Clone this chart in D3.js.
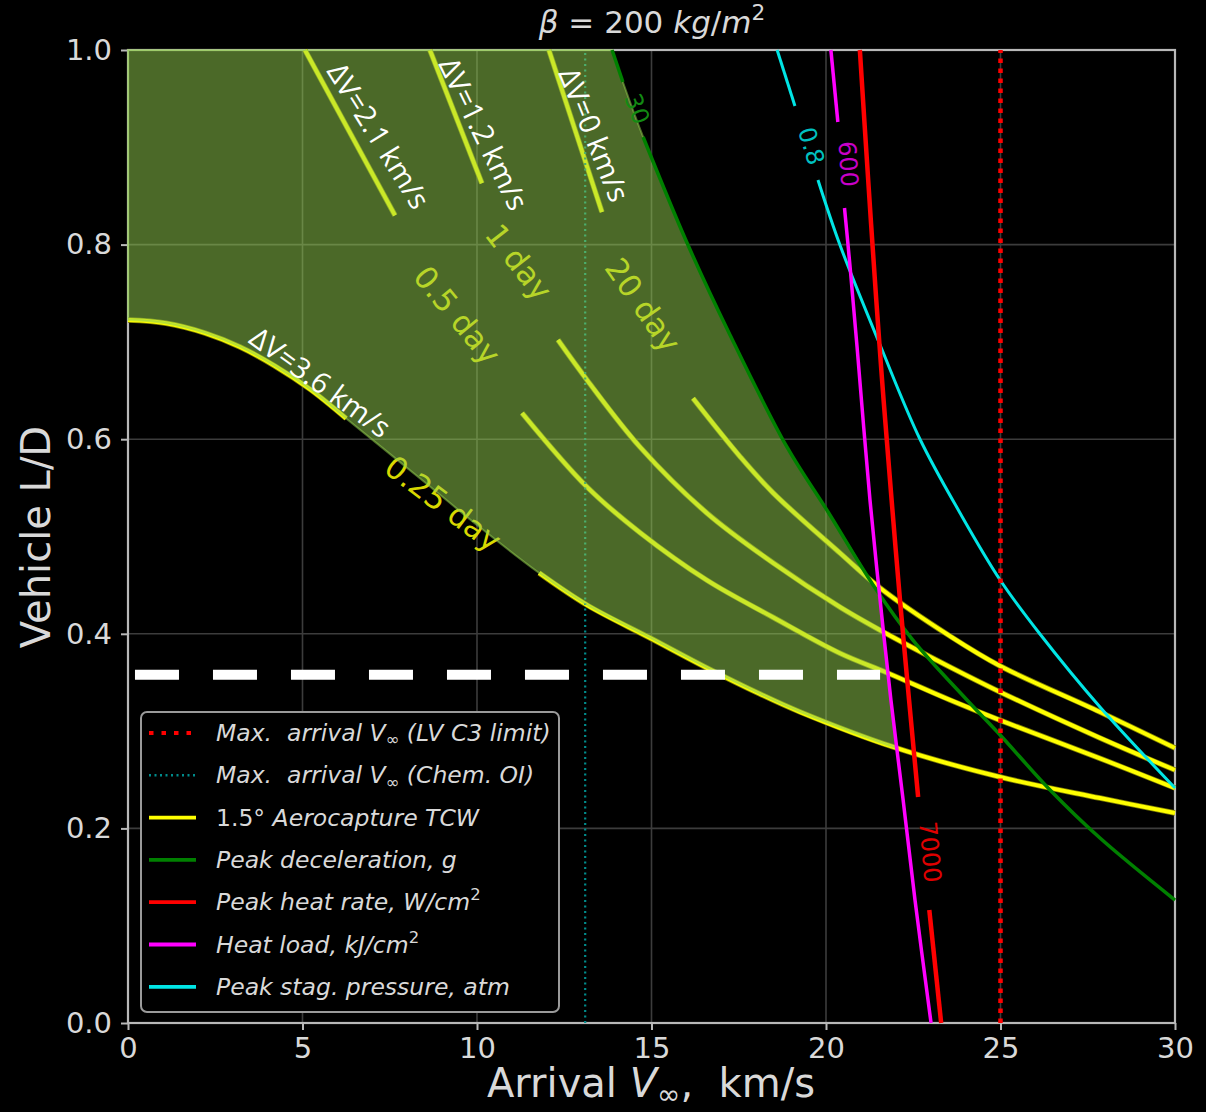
<!DOCTYPE html>
<html>
<head>
<meta charset="utf-8">
<script src="https://cdn.jsdelivr.net/npm/d3@7"></script>
<style>
  html, body { margin: 0; padding: 0; background: #000; }
  svg { display: block; }
  text { white-space: pre; }
</style>
</head>
<body>
<svg id="chart" width="1206" height="1112"></svg>
<script>
// values: x = arrival V_inf (km/s), y = vehicle L/D
var xTicks = [0, 5, 10, 15, 20, 25, 30];
var xTickLabels = ['0', '5', '10', '15', '20', '25', '30'];
var yTicks = [0, 0.2, 0.4, 0.6, 0.8, 1.0];
var yTickLabels = ['0.0', '0.2', '0.4', '0.6', '0.8', '1.0'];

var c3LimitV = 25;     // max arrival V_inf (LV C3 limit)
var chemOiV = 13.1;    // max arrival V_inf (chem. OI)
var guideLD = 0.358;   // white dashed guide line
var guideV = [0.2, 21.55];

// 1.5 deg aerocapture TCW, contours of orbit period
var tcw025 = [[0, 0.7225], [1.09, 0.7192], [2.21, 0.7091], [3.21, 0.6948], [4.21, 0.6752], [5.22, 0.6512],
  [6.25, 0.6213], [8.37, 0.5596], [10.09, 0.5092], [11.78, 0.4625], [13.15, 0.4296], [14.96, 0.3957],
  [16.59, 0.3649], [18.11, 0.3381], [19.26, 0.3196], [21.92, 0.2837], [24.99, 0.2528], [27.85, 0.2312],
  [30, 0.2158]];
var tcw05 = [[5.07, 1.0], [7.65, 0.83], [11.29, 0.627], [13.15, 0.551], [14.67, 0.504], [16.59, 0.455],
  [18.48, 0.417], [20.4, 0.38], [21.75, 0.36], [23.55, 0.332], [25, 0.311], [27.85, 0.272], [30, 0.2415]];
var tcw1 = [[8.65, 1.0], [10.14, 0.863], [12.32, 0.702], [13.15, 0.661], [14.67, 0.592], [16.59, 0.524],
  [18.48, 0.473], [20.4, 0.4275], [21.75, 0.3998], [23.55, 0.3659], [25, 0.34], [27.85, 0.293], [30, 0.26]];
var tcw20 = [[12.06, 1.0], [13.58, 0.8335], [16.19, 0.642], [17.54, 0.582], [18.48, 0.545], [20.4, 0.483],
  [21.55, 0.4471], [23.55, 0.3977], [24.99, 0.3669], [27.85, 0.3196], [30, 0.2826]];
// label gaps along each contour (V range)
var gap025 = [6.25, 11.78];
var gap05 = [7.65, 11.29];
var gap1 = [10.14, 12.32];
var gap20 = [13.58, 16.19];

// constraint contours
var peakDecel30 = [[13.87, 1.0], [14.18, 0.9671], [14.76, 0.9106], [16.02, 0.8016], [17.25, 0.7071],
  [18.88, 0.592], [20.06, 0.5252], [21.35, 0.4502], [22.49, 0.3936], [24.04, 0.332], [24.99, 0.296],
  [26.42, 0.2395], [27.85, 0.1901], [30, 0.1264]];
var heatRate7000 = [[20.97, 1.0], [21.19, 0.8767], [21.44, 0.7431], [21.65, 0.6403], [21.88, 0.5375],
  [22.12, 0.4347], [22.38, 0.332], [22.64, 0.2323], [22.96, 0.1161], [23.3, 0.0]];
var heatLoad600 = [[20.14, 1.0], [20.34, 0.926], [20.53, 0.8376], [20.69, 0.777], [20.89, 0.6948],
  [21.26, 0.5375], [21.55, 0.4347], [21.86, 0.332], [22.21, 0.2292], [22.55, 0.1264], [23.01, 0.0]];
var stagPress08 = [[18.6, 1.0], [19.11, 0.9424], [19.77, 0.8664], [20.4, 0.7996], [21.55, 0.6968],
  [22.69, 0.6002], [23.84, 0.5242], [24.99, 0.4553], [26.13, 0.3998], [27.85, 0.3248], [30, 0.2415]];
var gapDecel = [14.18, 14.76];
var gapHeatRate = [22.64, 22.96];
var gapHeatLoad = [20.34, 20.53];
var gapStag = [19.11, 19.77];

// inline contour labels: text, [V, L/D] centre, angle
var dayLabels = [
  ['0.25 day', [9.03, 0.534], 37],
  ['0.5 day', [9.43, 0.7276], 50.5],
  ['1 day', [11.2, 0.7821], 52],
  ['20 day', [14.76, 0.7379], 55]
];
var limitLabels = [
  ['30', [14.58, 0.9394], 70, 'decel'],
  ['0.8', [19.57, 0.9013], 73, 'stag'],
  ['600', [20.63, 0.8828], 86, 'load'],
  ['7000', [22.98, 0.1757], 85, 'rate']
];
// white delta-V notes: text, baseline start [V, L/D], angle
var dvLabels = [
  ['\u0394V=2.1 km/s', [5.67, 0.9784], 58],
  ['\u0394V=1.2 km/s', [8.88, 0.9856], 64],
  ['\u0394V=0 km/s', [12.32, 0.9764], 68],
  ['\u0394V=3.6 km/s', [3.42, 0.7], 36]
];

var legendItems = [
  ['c3', [['Max.  arrival V'], ['\u221e', 'sub'], [' (LV C3 limit)']]],
  ['chem', [['Max.  arrival V'], ['\u221e', 'sub'], [' (Chem. OI)']]],
  ['tcw', [['1.5\u00b0 ', 'n'], ['Aerocapture TCW']]],
  ['decel', [['Peak deceleration, g']]],
  ['rate', [['Peak heat rate, W/cm'], ['2', 'sup']]],
  ['load', [['Heat load, kJ/cm'], ['2', 'sup']]],
  ['stag', [['Peak stag. pressure, atm']]]
];

var colors = {
  c3: '#ff0000', chem: '#008b8b', tcw: '#ffff00', decel: '#008000',
  rate: '#ff0000', load: '#ff00ff', stag: '#00e5e5'
};
var labelColors = { decel: '#138a13', stag: '#00c0c0', load: '#c800c8', rate: '#e00000' };

var FONT = 'DejaVu Sans, sans-serif';
var TXT = '#d9d9d9';

var svg = d3.select('#chart');
var x = d3.scaleLinear().domain([0, 30]).range([128, 1175]);
var y = d3.scaleLinear().domain([0, 1]).range([1023, 50]);

var lineGen = d3.line()
  .x(function(d) { return x(d[0]); })
  .y(function(d) { return y(d[1]); })
  .curve(d3.curveCatmullRom.alpha(0.5));

function pieces(pts, gap) {
  if (!gap) return [pts];
  return [pts.filter(function(p) { return p[0] <= gap[0]; }),
          pts.filter(function(p) { return p[0] >= gap[1]; })];
}

function drawCurve(layer, pts, gap, color, width) {
  layer.selectAll(null).data(pieces(pts, gap)).enter().append('path')
    .attr('d', lineGen)
    .attr('fill', 'none')
    .attr('stroke', color)
    .attr('stroke-width', width);
}

// first crossing of two polylines (straight segments)
function crossing(a, b) {
  for (var i = 0; i < a.length - 1; i++) {
    for (var j = 0; j < b.length - 1; j++) {
      var p = a[i], r = [a[i + 1][0] - p[0], a[i + 1][1] - p[1]];
      var q = b[j], s = [b[j + 1][0] - q[0], b[j + 1][1] - q[1]];
      var den = r[0] * s[1] - r[1] * s[0];
      if (den === 0) continue;
      var t = ((q[0] - p[0]) * s[1] - (q[1] - p[1]) * s[0]) / den;
      var u = ((q[0] - p[0]) * r[1] - (q[1] - p[1]) * r[0]) / den;
      if (t >= 0 && t <= 1 && u >= 0 && u <= 1) {
        return { i: i, j: j, pt: [p[0] + t * r[0], p[1] + t * r[1]] };
      }
    }
  }
  return null;
}

function richText(sel, parts, fs, defStyle) {
  var shift = 0;
  parts.forEach(function(p) {
    var mode = p[1] || defStyle;
    var target = mode === 'sub' ? 0.18 * fs : (mode === 'sup' ? -0.42 * fs : 0);
    var t = sel.append('tspan').text(p[0]).attr('dy', target - shift);
    shift = target;
    if (mode === 'sub' || mode === 'sup') t.attr('font-size', fs * 0.7);
    t.attr('font-style', mode === 'n' || mode === 'sup' ? 'normal' : (mode === 'i' || defStyle === 'i' ? 'italic' : 'normal'));
  });
}

// grid
var grid = svg.append('g');
grid.selectAll(null).data(xTicks.slice(1, -1)).enter().append('line')
  .attr('x1', function(d) { return x(d); }).attr('x2', function(d) { return x(d); })
  .attr('y1', y(0)).attr('y2', y(1))
  .attr('stroke', '#3c3c3c').attr('stroke-width', 1.6);
grid.selectAll(null).data(yTicks.slice(1, -1)).enter().append('line')
  .attr('y1', function(d) { return y(d); }).attr('y2', function(d) { return y(d); })
  .attr('x1', x(0)).attr('x2', x(30))
  .attr('stroke', '#3c3c3c').attr('stroke-width', 1.6);

// frame
svg.append('rect')
  .attr('x', x(0)).attr('y', y(1)).attr('width', x(30) - x(0)).attr('height', y(0) - y(1))
  .attr('fill', 'none').attr('stroke', '#b8b8b8').attr('stroke-width', 2.2);

// axes
var xAxis = svg.append('g').attr('transform', 'translate(0,' + y(0) + ')')
  .call(d3.axisBottom(x).tickValues(xTicks)
    .tickFormat(function(d, i) { return xTickLabels[i]; })
    .tickSize(7).tickPadding(7));
var yAxis = svg.append('g').attr('transform', 'translate(' + x(0) + ',0)')
  .call(d3.axisLeft(y).tickValues(yTicks)
    .tickFormat(function(d, i) { return yTickLabels[i]; })
    .tickSize(7).tickPadding(9));
[xAxis, yAxis].forEach(function(a) {
  a.select('.domain').remove();
  a.selectAll('.tick line').attr('stroke', '#b8b8b8').attr('stroke-width', 2);
  a.selectAll('.tick text').attr('fill', TXT).attr('font-size', 29).attr('font-family', FONT);
});

// titles
var title = svg.append('text').attr('x', 652).attr('y', 33)
  .attr('text-anchor', 'middle').attr('fill', TXT).attr('font-size', 31).attr('font-family', FONT);
richText(title, [['\u03b2', 'i'], [' = 200 ', 'n'], ['kg', 'i'], ['/', 'n'], ['m', 'i'], ['2', 'sup']], 31, 'n');

var xLabel = svg.append('text').attr('x', 651).attr('y', 1097)
  .attr('text-anchor', 'middle').attr('fill', TXT).attr('font-size', 40).attr('font-family', FONT);
richText(xLabel, [['Arrival ', 'n'], ['V', 'i'], ['\u221e', 'sub'], [',  km/s', 'n']], 40, 'n');

svg.append('text').attr('transform', 'translate(50,537) rotate(-90)')
  .attr('text-anchor', 'middle').attr('fill', TXT).attr('font-size', 40).attr('font-family', FONT)
  .text('Vehicle L/D');

// aerocapture corridor contours (under the fill), soft olive edge then yellow core
var lines = svg.append('g');
[tcw025, tcw05, tcw1, tcw20].forEach(function(c, k) {
  var g = [gap025, gap05, gap1, gap20][k];
  drawCurve(lines, c, g, '#7e7e00', 5.5);
  drawCurve(lines, c, g, colors.tcw, 4);
});

lines.selectAll(null).data(dayLabels).enter().append('text')
  .attr('transform', function(d) { return 'translate(' + x(d[1][0]) + ',' + y(d[1][1]) + ') rotate(' + d[2] + ')'; })
  .attr('text-anchor', 'middle').attr('dominant-baseline', 'central')
  .attr('fill', '#d8d800').attr('font-size', 31).attr('font-family', FONT)
  .text(function(d) { return d[0]; });

lines.append('line')
  .attr('x1', x(chemOiV)).attr('x2', x(chemOiV)).attr('y1', y(0)).attr('y2', y(1))
  .attr('stroke', colors.chem).attr('stroke-width', 2.2).attr('stroke-dasharray', '2,3.5');

// feasible region
var gm = crossing(peakDecel30, heatLoad600);
var ml = crossing(heatLoad600, tcw025);
var upper = peakDecel30.slice(0, gm.i + 1).concat([gm.pt]);
var side = [gm.pt].concat(heatLoad600.slice(gm.j + 1, ml.i + 1), [ml.pt]);
var lower = tcw025.slice(0, ml.j + 1).concat([ml.pt]).reverse();
var regionPath = 'M' + x(0) + ',' + y(1) +
  lineGen(upper).replace(/^M/, 'L') +
  lineGen(side).replace(/^M/, 'L') +
  lineGen(lower).replace(/^M/, 'L') + 'Z';
svg.append('path').attr('d', regionPath)
  .attr('fill', 'rgba(150,210,80,0.5)')
  .attr('stroke', 'rgba(150,210,80,0.5)').attr('stroke-width', 2);

// constraint lines
var limits = svg.append('g');
drawCurve(limits, peakDecel30, gapDecel, colors.decel, 3.5);
drawCurve(limits, stagPress08, gapStag, colors.stag, 3);
drawCurve(limits, heatLoad600, gapHeatLoad, colors.load, 3.5);
drawCurve(limits, heatRate7000, gapHeatRate, colors.rate, 4.5);

limits.selectAll(null).data(limitLabels).enter().append('text')
  .attr('transform', function(d) { return 'translate(' + x(d[1][0]) + ',' + y(d[1][1]) + ') rotate(' + d[2] + ')'; })
  .attr('text-anchor', 'middle').attr('dominant-baseline', 'central')
  .attr('fill', function(d) { return labelColors[d[3]]; })
  .attr('font-size', 24).attr('font-family', FONT)
  .text(function(d) { return d[0]; });

limits.append('line')
  .attr('x1', x(c3LimitV)).attr('x2', x(c3LimitV)).attr('y1', y(0)).attr('y2', y(1))
  .attr('stroke', colors.c3).attr('stroke-width', 4.5).attr('stroke-dasharray', '4.5,5.5');

// legend
var legend = svg.append('g').attr('transform', 'translate(141,712)');
legend.append('rect').attr('width', 418).attr('height', 300).attr('rx', 6)
  .attr('fill', '#000').attr('stroke', '#9a9a9a').attr('stroke-width', 2);
var rows = legend.selectAll(null).data(legendItems).enter().append('g')
  .attr('transform', function(d, i) { return 'translate(0,' + (21 + i * 42.3) + ')'; });
rows.append('line').attr('x1', 8).attr('x2', 55)
  .attr('stroke', function(d) { return colors[d[0]]; })
  .attr('stroke-width', function(d) { return d[0] === 'chem' ? 2.4 : 3.8; })
  .attr('stroke-dasharray', function(d) {
    return d[0] === 'c3' ? '4.5,8' : (d[0] === 'chem' ? '2,3.5' : null);
  });
rows.append('text').attr('x', 75).attr('y', 8)
  .attr('fill', TXT).attr('font-size', 23.5).attr('font-family', FONT)
  .each(function(d) { richText(d3.select(this), d[1], 23.5, 'i'); });

// white overlays: delta-V notes and dashed guide
svg.append('line')
  .attr('x1', x(guideV[0])).attr('x2', x(guideV[1])).attr('y1', y(guideLD)).attr('y2', y(guideLD))
  .attr('stroke', '#fff').attr('stroke-width', 10).attr('stroke-dasharray', '44,34');

svg.selectAll(null).data(dvLabels).enter().append('text')
  .attr('transform', function(d) { return 'translate(' + x(d[1][0]) + ',' + y(d[1][1]) + ') rotate(' + d[2] + ')'; })
  .attr('fill', '#fff').attr('font-size', 29).attr('font-family', 'Open Sans, sans-serif')
  .text(function(d) { return d[0]; });
</script>
</body>
</html>
